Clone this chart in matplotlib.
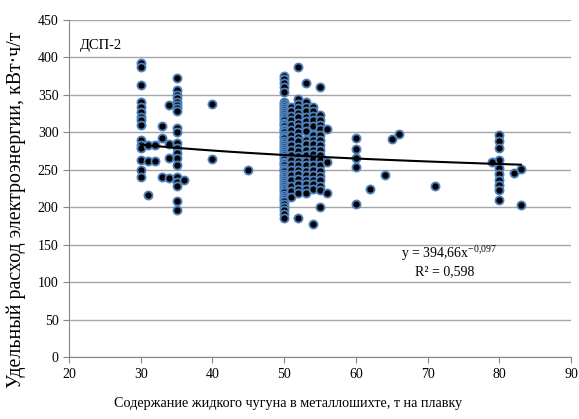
import matplotlib
matplotlib.use("Agg")
import matplotlib.pyplot as plt
import numpy as np

plt.rcParams['font.family'] = ['Liberation Serif', 'DejaVu Serif']
plt.rcParams['mathtext.fontset'] = 'custom'
plt.rcParams['mathtext.rm'] = 'Liberation Serif'
plt.rcParams['mathtext.it'] = 'Liberation Serif'

# melt data: hot metal in charge (t/heat) -> specific power use (kWh/t)
x30 = [30] * 15
y30 = [392, 387, 363, 341, 334, 327, 321, 316, 310, 290, 283, 279, 263, 250, 241]
x31 = [31, 31, 31, 32, 32, 33, 33, 33, 34, 34, 34, 34]
y31 = [283, 262, 216, 283, 262, 308, 292, 241, 337, 284, 266, 239]
x35 = [35] * 20 + [36]
y35 = [372, 357, 350, 346, 341, 337, 332, 328, 306, 301, 286, 279, 272, 266,
       257, 241, 234, 228, 208, 197, 237]
x40 = [40, 40, 45]
y40 = [338, 265, 250]

y50 = [375, 371, 366, 360, 354, 340, 338, 335, 333, 330, 327, 325, 322, 319,
       316, 313, 311, 308, 305, 303, 300, 297, 294, 292, 289, 286, 283, 281,
       278, 275, 272, 270, 267, 264, 261, 259, 256, 253, 250, 248, 245, 242,
       239, 237, 234, 231, 228, 226, 223, 220, 217, 214, 211, 208, 205, 201,
       197, 191, 186]
y51 = [334, 328, 322, 316, 310, 303, 297, 290, 283, 276, 270, 263, 256, 250,
       243, 236, 229, 222, 214]
y52 = [387, 344, 338, 332, 326, 320, 313, 307, 300, 294, 288, 281, 275, 268,
       262, 256, 250, 244, 238, 231, 225, 219, 186]
y53 = [366, 340, 334, 328, 321, 315, 309, 302, 290, 284, 277, 270, 262, 256,
       249, 243, 237, 231, 225, 219]
y54 = [334, 328, 322, 316, 309, 297, 290, 284, 277, 271, 264, 257, 250, 243,
       237, 231, 225, 178]
y55 = [360, 323, 317, 310, 304, 297, 290, 283, 276, 270, 263, 256, 249, 242,
       236, 229, 223, 201]
y56 = [304, 260, 219]

x60 = [60, 60, 60, 60, 60, 62, 64, 65, 66, 71]
y60 = [292, 278, 266, 254, 205, 224, 243, 291, 298, 229]
x80 = [80] * 10 + [79, 82, 83, 83]
y80 = [297, 288, 279, 263, 252, 245, 237, 230, 223, 210, 261, 246, 251, 203]

xs = (x30 + x31 + x35 + x40
      + [50] * len(y50) + [51] * len(y51) + [52] * len(y52) + [53] * len(y53)
      + [54] * len(y54) + [55] * len(y55) + [56] * len(y56) + x60 + x80)
ys = y30 + y31 + y35 + y40 + y50 + y51 + y52 + y53 + y54 + y55 + y56 + y60 + y80

# power-law trend: y = 394.66 * x^-0.097
a, b = 394.66, -0.097
r2 = 0.598

fig = plt.figure(figsize=(5.79, 4.19), dpi=100)
ax = fig.add_axes([0.1192, 0.1468, 0.867, 0.8055])

ax.scatter(xs, ys, s=34, c='black', edgecolors='#4F81BD', linewidths=1.3, zorder=3)

xt = np.linspace(30, 83, 100)
ax.plot(xt, a * xt ** b, color='black', lw=1.5, zorder=4)

ax.set_xlim(20, 90)
ax.set_ylim(0, 450)
ax.set_xticks(range(20, 91, 10))
ax.set_yticks(range(0, 451, 50))
ax.yaxis.grid(True, color='#A6A6A6', lw=1)
ax.set_axisbelow(True)
for s in ['top', 'right']:
    ax.spines[s].set_visible(False)
for s in ['left', 'bottom']:
    ax.spines[s].set_color('#868686')
ax.tick_params(direction='out', length=4, color='#868686', labelsize=10)

ax.text(0.022, 0.915, 'ДСП-2', transform=ax.transAxes, fontsize=10.5)
eq = 'y = ' + f'{a:.2f}'.replace('.', ',') + 'x$^{-0{,}097}$'
ax.text(66.3, 139, eq, fontsize=10, ha='left', va='center')
ax.text(68.2, 114, 'R² = ' + f'{r2:.3f}'.replace('.', ','), fontsize=10,
        ha='left', va='center')

fig.text(0.497, 0.036, 'Содержание жидкого чугуна в металлошихте, т на плавку',
         ha='center', va='center', fontsize=10.2)
fig.text(0.028, 0.5, 'Удельный расход электроэнергии, кВт·ч/т',
         rotation=90, ha='center', va='center', fontsize=14.3)

fig.savefig('out.png', dpi=100)
